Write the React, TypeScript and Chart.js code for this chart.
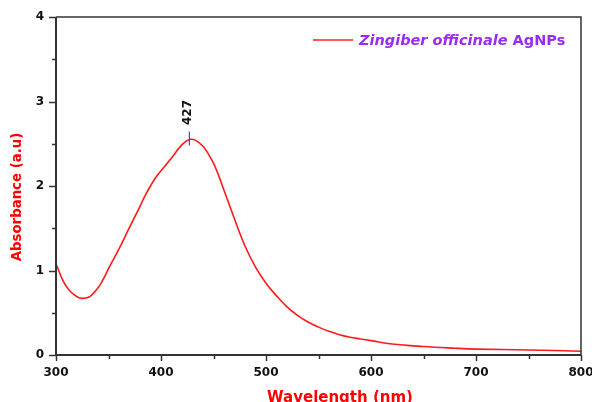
import { useEffect, useRef } from "react";
import { Chart, registerables } from "chart.js";

Chart.register(...registerables);

const wavelengths = [300, 307, 313, 320, 325, 332, 337, 342, 346, 351, 361, 370, 380, 385, 390, 395, 400, 410, 420, 427, 433, 440, 445, 450, 455, 460, 470, 480, 490, 500, 510, 520, 530, 540, 550, 560, 570, 580, 590, 600, 620, 650, 680, 700, 750, 800];
const absorbance = [1.08, 0.87, 0.76, 0.69, 0.67, 0.69, 0.75, 0.83, 0.92, 1.045, 1.28, 1.51, 1.76, 1.89, 2.0, 2.1, 2.18, 2.33, 2.49, 2.55, 2.54, 2.47, 2.38, 2.27, 2.12, 1.95, 1.61, 1.29, 1.04, 0.85, 0.7, 0.57, 0.47, 0.39, 0.33, 0.28, 0.24, 0.21, 0.19, 0.17, 0.13, 0.1, 0.08, 0.07, 0.06, 0.045];
const xTickValues = [300, 400, 500, 600, 700, 800];
const yTickValues = [0, 1, 2, 3, 4];
const peakWavelength = 427;
const peakAbsorbance = 2.55;
const peakLabel = "427";
const seriesName = "Zingiber officinale";
const seriesSuffix = " AgNPs";
const xTitle = "Wavelength (nm)";
const yTitle = "Absorbance (a.u)";

const FONT = "'DejaVu Sans', Verdana, sans-serif";

const decorPlugin = {
  id: "decor",
  afterDraw(chart: any) {
    const { ctx, chartArea, scales } = chart;
    const { left, right, top, bottom } = chartArea;
    const xs = scales.x;
    const ys = scales.y;
    ctx.save();
    // frame
    ctx.strokeStyle = "#333";
    ctx.lineWidth = 1.5;
    ctx.beginPath();
    ctx.moveTo(left, top);
    ctx.lineTo(right, top);
    ctx.lineTo(right, bottom);
    ctx.stroke();
    ctx.lineWidth = 2;
    ctx.beginPath();
    ctx.moveTo(left, top);
    ctx.lineTo(left, bottom);
    ctx.lineTo(right, bottom);
    ctx.stroke();
    // ticks
    ctx.lineWidth = 1.5;
    const xMin = xTickValues[0];
    const xMax = xTickValues[xTickValues.length - 1];
    for (let v = xMin; v <= xMax; v += 50) {
      const px = Math.round(xs.getPixelForValue(v)) + 0.5;
      const len = v % 100 === 0 ? 6 : 4;
      ctx.beginPath();
      ctx.moveTo(px, bottom);
      ctx.lineTo(px, bottom + len);
      ctx.stroke();
    }
    const yMax = yTickValues[yTickValues.length - 1];
    for (let v = 0; v <= yMax; v += 0.5) {
      const py = Math.round(ys.getPixelForValue(v)) + 0.5;
      const len = v % 1 === 0 ? 7 : 4;
      ctx.beginPath();
      ctx.moveTo(left - len, py);
      ctx.lineTo(left, py);
      ctx.stroke();
    }
    // axis titles
    ctx.fillStyle = "#ff0000";
    ctx.font = `bold 13.3px ${FONT}`;
    ctx.textAlign = "center";
    ctx.textBaseline = "middle";
    ctx.save();
    ctx.translate(18, 197);
    ctx.rotate(-Math.PI / 2);
    ctx.fillText(yTitle, 0, 0);
    ctx.restore();
    ctx.font = `bold 15px ${FONT}`;
    ctx.textBaseline = "alphabetic";
    ctx.fillText(xTitle, 340, 402);
    // legend
    ctx.strokeStyle = "#ff2020";
    ctx.lineWidth = 1.5;
    ctx.beginPath();
    ctx.moveTo(313, 40);
    ctx.lineTo(353, 40);
    ctx.stroke();
    ctx.fillStyle = "#9a2cf0";
    ctx.textAlign = "left";
    ctx.textBaseline = "middle";
    ctx.font = `italic bold 14.5px ${FONT}`;
    ctx.fillText(seriesName, 359, 41);
    const w = ctx.measureText(seriesName).width;
    ctx.font = `bold 14.5px ${FONT}`;
    ctx.fillText(seriesSuffix, 359 + w, 41);
    // peak marker
    const pX = xs.getPixelForValue(peakWavelength);
    const pY = ys.getPixelForValue(peakAbsorbance);
    ctx.strokeStyle = "#3344ff";
    ctx.lineWidth = 1.2;
    ctx.beginPath();
    ctx.moveTo(pX, pY - 8);
    ctx.lineTo(pX, pY + 6);
    ctx.stroke();
    ctx.fillStyle = "#111";
    ctx.font = `bold 12px ${FONT}`;
    ctx.textAlign = "center";
    ctx.textBaseline = "middle";
    ctx.save();
    ctx.translate(pX - 1, pY - 27);
    ctx.rotate(-Math.PI / 2);
    ctx.fillText(peakLabel, 0, 0);
    ctx.restore();
    ctx.restore();
  },
};

export default function App() {
  const ref = useRef<HTMLCanvasElement>(null);
  useEffect(() => {
    document.body.style.margin = "0";
    const canvas = ref.current;
    if (!canvas) return;
    const points = wavelengths.map((w, i) => ({ x: w, y: absorbance[i] }));
    const chart = new Chart(canvas, {
      type: "line",
      data: {
        datasets: [
          {
            label: seriesName + seriesSuffix,
            data: points,
            borderColor: "#ff1a1a",
            borderWidth: 1.6,
            pointRadius: 0,
            tension: 0.4,
            fill: false,
          },
        ],
      },
      options: {
        responsive: false,
        animation: false,
        devicePixelRatio: 1,
        layout: { padding: { top: 17, right: 11, left: 0, bottom: 0 } },
        plugins: { legend: { display: false }, tooltip: { enabled: false } },
        scales: {
          x: {
            type: "linear",
            min: xTickValues[0],
            max: xTickValues[xTickValues.length - 1],
            grid: { display: false, drawTicks: false },
            border: { display: false },
            afterBuildTicks: (s: any) => {
              s.ticks = xTickValues.map((v) => ({ value: v }));
            },
            afterFit: (s: any) => {
              s.height = 47;
              s.paddingLeft = 0;
              s.paddingRight = 0;
            },
            ticks: {
              padding: 11,
              color: "#111",
              font: { family: FONT, size: 12, weight: "bold" },
              maxRotation: 0,
            },
          },
          y: {
            type: "linear",
            min: yTickValues[0],
            max: yTickValues[yTickValues.length - 1],
            grid: { display: false, drawTicks: false },
            border: { display: false },
            afterBuildTicks: (s: any) => {
              s.ticks = yTickValues.map((v) => ({ value: v }));
            },
            afterFit: (s: any) => {
              s.width = 56;
              s.paddingTop = 0;
              s.paddingBottom = 0;
            },
            ticks: {
              padding: 12,
              color: "#111",
              font: { family: FONT, size: 12, weight: "bold" },
            },
          },
        },
      },
      plugins: [decorPlugin],
    } as any);
    return () => chart.destroy();
  }, []);
  return <canvas ref={ref} width={592} height={402} style={{ display: "block" }} />;
}
